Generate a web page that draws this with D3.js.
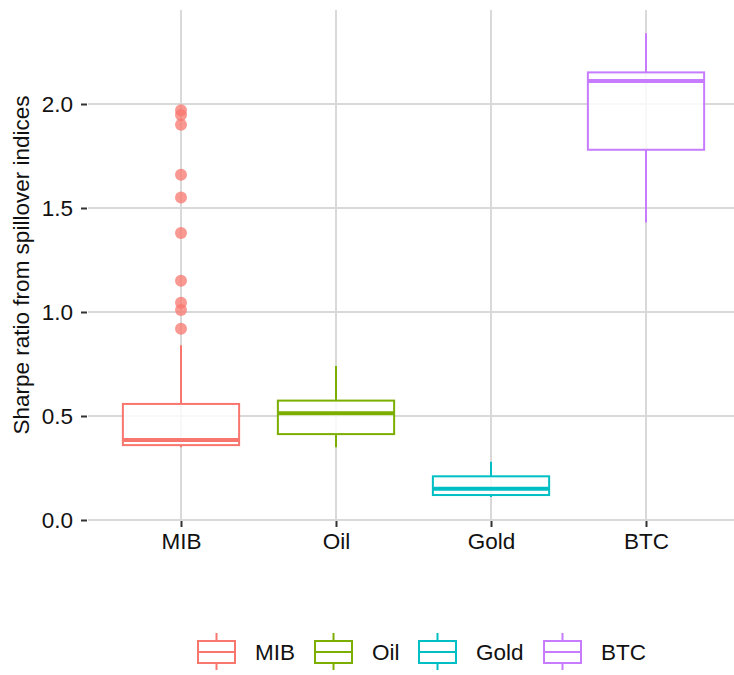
<!DOCTYPE html>
<html><head><meta charset="utf-8">
<script src="https://cdn.jsdelivr.net/npm/d3@7"></script>
<style>body{margin:0;background:#fff}svg{display:block}text{font-family:"Liberation Sans",Arial,sans-serif}</style>
</head><body><svg id="c" width="734" height="675"></svg>
<script>
const categories = ["MIB", "Oil", "Gold", "BTC"];
const colors = ["#F8766D", "#7CAE00", "#00BFC4", "#C77CFF"];
const whiskerLow = [0.35, 0.35, 0.11, 1.43];
const q1 = [0.36, 0.413, 0.12, 1.78];
const median = [0.385, 0.513, 0.15, 2.11];
const q3 = [0.558, 0.574, 0.21, 2.152];
const whiskerHigh = [0.84, 0.74, 0.28, 2.34];
const outliersMIB = [0.92, 1.01, 1.045, 1.15, 1.38, 1.55, 1.66, 1.90, 1.947, 1.97];
const yTicks = [0, 0.5, 1.0, 1.5, 2.0];
const yTitle = "Sharpe ratio from spillover indices";

const FS = 22.5;
const svg = d3.select("#c");
const pl = 88, pr = 739, pt = 10, pb = 520;
const x = d3.scalePoint().domain(categories).range([pl, pr]).padding(0.6);
const step = x.step();
const y = d3.scaleLinear().domain([0, 510/208]).range([pb, pt]);

const grid = svg.append("g");
yTicks.forEach(t => grid.append("line").attr("x1", pl).attr("x2", pr).attr("y1", y(t)).attr("y2", y(t))
  .attr("stroke", "#d9d9d9").attr("stroke-width", 2));
categories.forEach(c => grid.append("line").attr("x1", x(c)).attr("x2", x(c)).attr("y1", pt).attr("y2", pb)
  .attr("stroke", "#d9d9d9").attr("stroke-width", 2));

// axes
const yAxis = d3.axisLeft(y).tickValues(yTicks).tickFormat(d3.format(".1f")).tickSize(6).tickPadding(8);
const gy = svg.append("g").attr("transform", `translate(${pl - 1},0)`).call(yAxis);
gy.select(".domain").remove();
gy.selectAll(".tick line").attr("stroke", "#333").attr("stroke-width", 2);
gy.selectAll(".tick text").attr("font-size", FS).attr("fill", "#111");

const xAxis = d3.axisBottom(x).tickSize(6).tickPadding(6);
const gx = svg.append("g").attr("transform", `translate(0,${pb + 1})`).call(xAxis);
gx.select(".domain").remove();
gx.selectAll(".tick line").attr("stroke", "#333").attr("stroke-width", 2);
gx.selectAll(".tick text").attr("font-size", FS).attr("fill", "#111");

svg.append("text").attr("transform", `translate(29,${(pt + pb) / 2}) rotate(-90)`)
  .attr("text-anchor", "middle").attr("font-size", FS).attr("fill", "#111").text(yTitle);

// boxes
const bw = step * 0.75;
categories.forEach((c, i) => {
  const g = svg.append("g");
  const cx = x(c), col = colors[i];
  g.append("line").attr("x1", cx).attr("x2", cx).attr("y1", y(q3[i])).attr("y2", y(whiskerHigh[i]))
    .attr("stroke", col).attr("stroke-width", 2);
  g.append("line").attr("x1", cx).attr("x2", cx).attr("y1", y(q1[i])).attr("y2", y(whiskerLow[i]))
    .attr("stroke", col).attr("stroke-width", 2);
  g.append("rect").attr("x", cx - bw / 2).attr("width", bw).attr("y", y(q3[i])).attr("height", y(q1[i]) - y(q3[i]))
    .attr("fill", "#fff").attr("fill-opacity", 0.8).attr("stroke", col).attr("stroke-width", 2);
  g.append("line").attr("x1", cx - bw / 2).attr("x2", cx + bw / 2).attr("y1", y(median[i])).attr("y2", y(median[i]))
    .attr("stroke", col).attr("stroke-width", 4);
});

svg.append("g").selectAll("circle").data(outliersMIB).join("circle")
  .attr("cx", x("MIB")).attr("cy", d => y(d)).attr("r", 6)
  .attr("fill", colors[0]).attr("fill-opacity", 0.75);

// legend
const legX = [198, 315, 419, 544];
const lg = svg.append("g");
categories.forEach((c, i) => {
  const kx = legX[i], kw = 37, col = colors[i];
  lg.append("line").attr("x1", kx + kw / 2).attr("x2", kx + kw / 2).attr("y1", 633).attr("y2", 670)
    .attr("stroke", col).attr("stroke-width", 2);
  lg.append("rect").attr("x", kx).attr("y", 641).attr("width", kw).attr("height", 22)
    .attr("fill", "#fff").attr("stroke", col).attr("stroke-width", 2);
  lg.append("line").attr("x1", kx).attr("x2", kx + kw).attr("y1", 652).attr("y2", 652)
    .attr("stroke", col).attr("stroke-width", 2);
  lg.append("text").attr("x", kx + kw + 20).attr("y", 652).attr("dy", "0.35em")
    .attr("font-size", FS).attr("fill", "#111").text(c);
});
</script></body></html>
